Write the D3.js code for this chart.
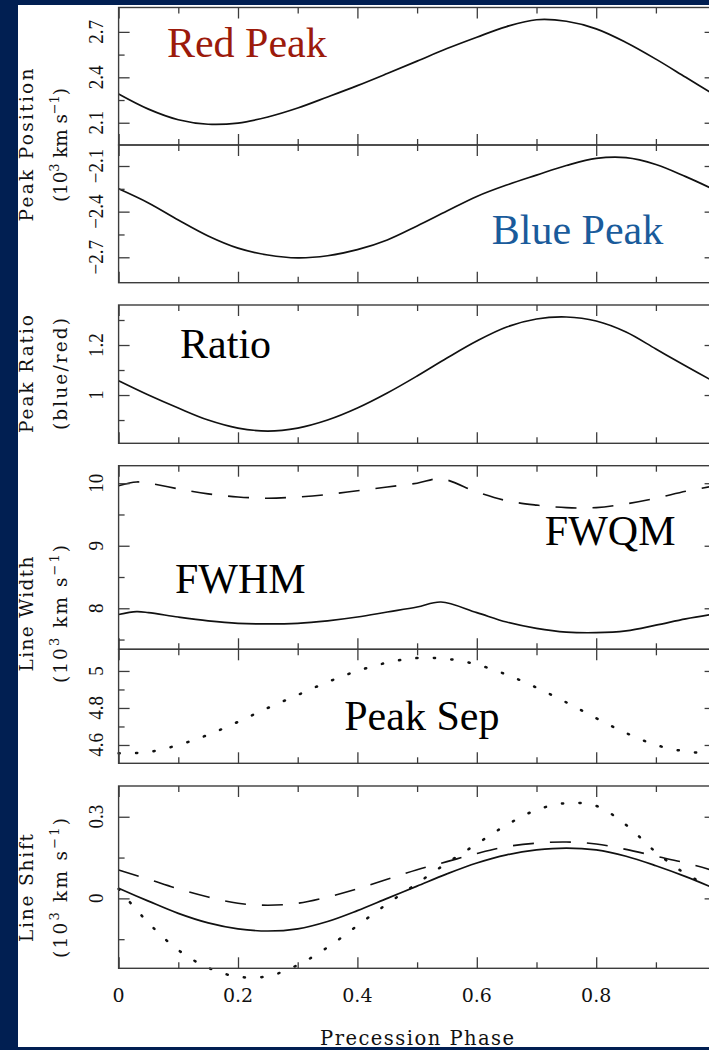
<!DOCTYPE html>
<html>
<head>
<meta charset="utf-8">
<script src="https://cdn.jsdelivr.net/npm/d3@7"></script>
<style>
  body { margin: 0; background: #011f52; }
  svg { display: block; }
</style>
</head>
<body>
<svg id="chart" width="709" height="1050"></svg>
<script>
// precession phase grid used by most curves
const phase = [0, 0.05, 0.1, 0.15, 0.2, 0.25, 0.3, 0.35, 0.4, 0.45, 0.5,
  0.55, 0.6, 0.65, 0.7, 0.75, 0.8, 0.85, 0.9, 0.95, 1];

const redPeak = [2.29, 2.19, 2.12, 2.09, 2.098, 2.138, 2.197, 2.27, 2.345, 2.425, 2.507,
  2.59, 2.665, 2.735, 2.78, 2.77, 2.72, 2.63, 2.52, 2.40, 2.28];
const bluePeak = [-2.25, -2.343, -2.455, -2.56, -2.64, -2.685, -2.704, -2.69, -2.65, -2.586, -2.494,
  -2.396, -2.30, -2.225, -2.16, -2.097, -2.05, -2.045, -2.09, -2.17, -2.26];
const peakRatio = [1.057, 1.0, 0.948, 0.90, 0.868, 0.856, 0.868, 0.90, 0.948, 1.008, 1.076,
  1.148, 1.216, 1.272, 1.304, 1.312, 1.296, 1.252, 1.184, 1.116, 1.05];

// line widths have a kink near phase 0.54
const widthPhase = [0, 0.03, 0.05, 0.1, 0.15, 0.2, 0.25, 0.3, 0.35, 0.4, 0.45, 0.5, 0.54,
  0.6, 0.65, 0.7, 0.75, 0.8, 0.85, 0.9, 0.95, 1];
const fwqm = [9.96, 10.02, 10.0, 9.91, 9.83, 9.78, 9.76, 9.78, 9.82, 9.88, 9.94, 10.0, 10.07,
  9.86, 9.72, 9.65, 9.61, 9.61, 9.67, 9.76, 9.87, 9.96];
const fwhm = [7.90, 7.945, 7.93, 7.86, 7.80, 7.76, 7.75, 7.76, 7.80, 7.86, 7.94, 8.02, 8.10,
  7.93, 7.78, 7.68, 7.62, 7.61, 7.64, 7.73, 7.83, 7.91];

const peakSep = [4.555, 4.562, 4.60, 4.655, 4.725, 4.80, 4.87, 4.94, 5.00, 5.045, 5.07,
  5.065, 5.035, 4.98, 4.91, 4.83, 4.745, 4.665, 4.60, 4.565, 4.553];

const shiftSolid = [0.037, -0.01, -0.055, -0.09, -0.112, -0.12, -0.112, -0.085, -0.045, 0.0, 0.045,
  0.09, 0.13, 0.16, 0.178, 0.185, 0.178, 0.155, 0.12, 0.08, 0.035];
const shiftDashed = [0.104, 0.07, 0.035, 0.005, -0.018, -0.025, -0.018, 0.005, 0.035, 0.07, 0.105,
  0.135, 0.165, 0.19, 0.203, 0.207, 0.2, 0.18, 0.155, 0.13, 0.1];
const shiftDotted = [0.035, -0.09, -0.19, -0.255, -0.288, -0.286, -0.245, -0.18, -0.10, -0.02, 0.055,
  0.13, 0.20, 0.27, 0.325, 0.35, 0.34, 0.27, 0.17, 0.09, 0.035];

const xMajor = [0, 0.2, 0.4, 0.6, 0.8, 1];
const xMinor = [0.1, 0.3, 0.5, 0.7, 0.9];
const xLabelVals = [0, 0.2, 0.4, 0.6, 0.8];
const xLabels = ["0", "0.2", "0.4", "0.6", "0.8"];

const svg = d3.select("#chart");
const W = 709, H = 1050;
const frameColor = "#3c3c3c";

svg.append("rect").attr("width", W).attr("height", H).attr("fill", "#011f52");
svg.append("rect").attr("x", 18).attr("y", 5).attr("width", W - 18).attr("height", 1042).attr("fill", "#fff");

const x = d3.scaleLinear().domain([0, 1]).range([118.6, 715.6]);

const panels = [
  {top: 7.5, bottom: 145, domain: [1.953, 2.861], major: [2.1, 2.4, 2.7], minor: [2.25, 2.55],
    series: [{px: phase, v: redPeak, style: "solid"}],
    notes: [{text: "Red Peak", at: [0.081, 2.533], color: "#9c1a0b"}]},
  {top: 145, bottom: 282.7, domain: [-2.867, -1.962], major: [-2.7, -2.4, -2.1], minor: [-2.55, -2.25],
    series: [{px: phase, v: bluePeak, style: "solid"}],
    notes: [{text: "Blue Peak", at: [0.625, -2.612], color: "#1a5b9b"}]},
  {top: 305, bottom: 443.3, domain: [0.807, 1.36], major: [1, 1.2], minor: [0.9, 1.1, 1.3],
    series: [{px: phase, v: peakRatio, style: "solid"}],
    notes: [{text: "Ratio", at: [0.103, 1.148], color: "#000"}]},
  {top: 465.7, bottom: 649.3, domain: [7.344, 10.28], major: [8, 9, 10], minor: [7.5, 8.5, 9.5],
    series: [{px: widthPhase, v: fwqm, style: "dashed"}, {px: widthPhase, v: fwhm, style: "solid"}],
    notes: [{text: "FWQM", at: [0.714, 9.013], color: "#000"}, {text: "FWHM", at: [0.0945, 8.245], color: "#000"}]},
  {top: 649.3, bottom: 763.3, domain: [4.501, 5.117], major: [4.6, 4.8, 5], minor: [4.7, 4.9],
    series: [{px: phase, v: peakSep, style: "dotted"}],
    notes: [{text: "Peak Sep", at: [0.378, 4.681], color: "#000"}]},
  {top: 786, bottom: 968.3, domain: [-0.257, 0.413], major: [0, 0.3], minor: [-0.15, 0.15],
    series: [{px: phase, v: shiftDashed, style: "dashed"}, {px: phase, v: shiftSolid, style: "solid"},
      {px: phase, v: shiftDotted, style: "dotted"}],
    notes: []}
];

const fmt = v => (v < 0 ? "\u2212" : "") + Math.abs(v);

panels.forEach(function (p) {
  const y = d3.scaleLinear().domain(p.domain).range([p.bottom, p.top]);
  const g = svg.append("g");

  // curves
  const line = d3.line().x(d => x(d[0])).y(d => y(d[1])).curve(d3.curveCatmullRom.alpha(0.5));
  p.series.forEach(function (s) {
    const pts = s.px.map((ph, i) => [ph, s.v[i]]);
    const path = g.append("path").datum(pts).attr("d", line)
      .attr("fill", "none").attr("stroke", "#111");
    if (s.style === "solid") path.attr("stroke-width", 1.7);
    if (s.style === "dashed") path.attr("stroke-width", 1.6).attr("stroke-dasharray", "21,16");
    if (s.style === "dotted") path.attr("stroke-width", 2.5).attr("stroke-linecap", "round").attr("stroke-dasharray", "1.2,16.3");
  });

  // frame
  g.append("rect").attr("x", x(0)).attr("y", p.top)
    .attr("width", x(1) - x(0)).attr("height", p.bottom - p.top)
    .attr("fill", "none").attr("stroke", frameColor).attr("stroke-width", 1.4);

  const tickAxis = function (axis, vals, size, tr) {
    const a = g.append("g").attr("transform", tr)
      .call(axis.tickValues(vals).tickSizeInner(-size).tickSizeOuter(0).tickFormat(""));
    a.select(".domain").remove();
    a.selectAll("line").attr("stroke", frameColor).attr("stroke-width", 1.3);
  };
  tickAxis(d3.axisTop(x), xMajor, 11, "translate(0," + p.top + ")");
  tickAxis(d3.axisTop(x), xMinor, 6, "translate(0," + p.top + ")");
  tickAxis(d3.axisBottom(x), xMajor, 11, "translate(0," + p.bottom + ")");
  tickAxis(d3.axisBottom(x), xMinor, 6, "translate(0," + p.bottom + ")");
  tickAxis(d3.axisLeft(y), p.major, 11, "translate(" + x(0) + ",0)");
  tickAxis(d3.axisLeft(y), p.minor, 6, "translate(" + x(0) + ",0)");
  tickAxis(d3.axisRight(y), p.major, 11, "translate(" + x(1) + ",0)");
  tickAxis(d3.axisRight(y), p.minor, 6, "translate(" + x(1) + ",0)");

  // rotated y tick labels
  g.selectAll("text.ylab").data(p.major).join("text")
    .attr("class", "ylab")
    .attr("transform", d => "translate(103," + y(d) + ") rotate(-90) scale(1,1.12)")
    .attr("text-anchor", "middle")
    .attr("font-family", "Liberation Serif")
    .attr("font-size", 19)
    .attr("fill", "#111")
    .text(fmt);

  p.notes.forEach(function (n) {
    g.append("text").attr("x", x(n.at[0])).attr("y", y(n.at[1]))
      .attr("font-family", "Liberation Serif").attr("font-size", 42)
      .attr("fill", n.color).text(n.text);
  });
});

// bottom axis labels
svg.append("g").selectAll("text").data(xLabelVals).join("text")
  .attr("x", d => x(d)).attr("y", 1001.7)
  .attr("text-anchor", "middle")
  .attr("font-family", "DejaVu Serif").attr("font-size", 19)
  .attr("fill", "#111")
  .text((d, i) => xLabels[i]);

svg.append("text").attr("x", x(0.5)).attr("y", 1045)
  .attr("text-anchor", "middle").attr("font-family", "DejaVu Serif").attr("font-size", 19.5)
  .attr("textLength", 194).attr("lengthAdjust", "spacing")
  .attr("fill", "#111").text("Precession Phase");

// y axis titles
const yTitles = [
  {line1: "Peak Position", units: true, center: 145, len1: 153, len2: 114},
  {line1: "Peak Ratio", line2: "(blue/red)", center: 374, len1: 118, len2: 112},
  {line1: "Line Width", units: true, center: 614, len1: 115, len2: 138},
  {line1: "Line Shift", units: true, center: 888, len1: 108, len2: 140}
];

yTitles.forEach(function (t) {
  svg.append("text")
    .attr("transform", "translate(33," + t.center + ") rotate(-90)")
    .attr("text-anchor", "middle").attr("font-family", "DejaVu Serif").attr("font-size", 18.5)
    .attr("textLength", t.len1).attr("lengthAdjust", "spacing")
    .attr("fill", "#111").text(t.line1);
  const t2 = svg.append("text")
    .attr("transform", "translate(67," + t.center + ") rotate(-90)")
    .attr("text-anchor", "middle").attr("font-family", "DejaVu Serif").attr("font-size", 18.5)
    .attr("textLength", t.len2).attr("lengthAdjust", "spacing")
    .attr("fill", "#111");
  if (t.units) {
    t2.append("tspan").text("(10");
    t2.append("tspan").attr("dy", -8).attr("font-size", 13).text("3");
    t2.append("tspan").attr("dy", 8).text(" km s");
    t2.append("tspan").attr("dy", -8).attr("font-size", 13).text("\u22121");
    t2.append("tspan").attr("dy", 8).text(")");
  } else {
    t2.text(t.line2);
  }
});

// bottom navy strip
svg.append("rect").attr("x", 0).attr("y", 1047).attr("width", W).attr("height", 3).attr("fill", "#011f52");
</script>
</body>
</html>
